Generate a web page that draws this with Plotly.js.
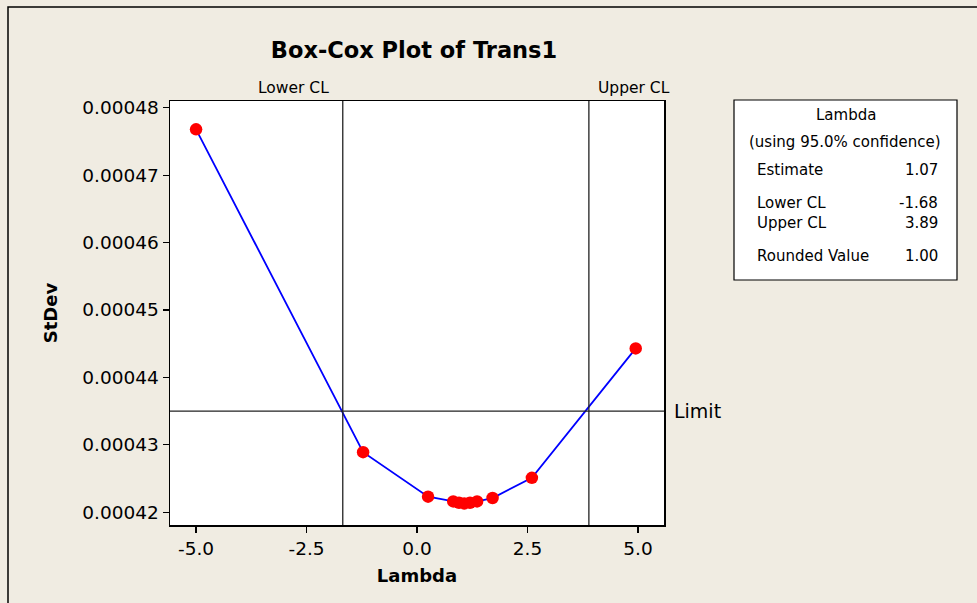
<!DOCTYPE html>
<html>
<head>
<meta charset="utf-8">
<script src="https://cdn.plot.ly/plotly-3.0.1.min.js"></script>
<style>html,body{margin:0;padding:0;background:#F0ECE2;}#chart{width:977px;height:603px;}</style>
</head>
<body>
<div id="chart"></div>
<script>
const lambdaValues = [-5.0, -1.22, 0.25, 0.82, 0.95, 1.07, 1.2, 1.36, 1.71, 2.6, 4.95];
const stdevValues = [0.0004768, 0.0004289, 0.0004223, 0.0004216, 0.0004214, 0.0004213, 0.0004214, 0.0004216, 0.0004221, 0.0004251, 0.0004443];
const lowerCL = -1.68;
const upperCL = 3.89;
const limitValue = 0.000435;
const xTicks = [-5.0, -2.5, 0.0, 2.5, 5.0];
const xTickLabels = ['-5.0', '-2.5', '0.0', '2.5', '5.0'];
const yTicks = [0.00042, 0.00043, 0.00044, 0.00045, 0.00046, 0.00047, 0.00048];
const yTickLabels = ['0.00042', '0.00043', '0.00044', '0.00045', '0.00046', '0.00047', '0.00048'];
const tableTitle = 'Lambda';
const tableSubtitle = '(using 95.0% confidence)';
const tableRows = [['Estimate', '1.07'], ['Lower CL', '-1.68'], ['Upper CL', '3.89'], ['Rounded Value', '1.00']];

const font = 'DejaVu Sans, Verdana, sans-serif';
const L = 170, R = 664, T = 101, B = 525, W = 977, H = 603;
const pw = R - L, ph = B - T;
const px = x => (x - L) / pw;
const py = y => 1 - (y - T) / ph;

const trace = {
  x: lambdaValues, y: stdevValues, type: 'scatter', mode: 'lines+markers',
  line: {color: '#0000FF', width: 1.8},
  marker: {color: '#FF0000', size: 12.5},
  hoverinfo: 'x+y', showlegend: false
};

const shapes = [
  {type: 'rect', xref: 'paper', yref: 'paper', x0: px(8), x1: px(1200), y0: py(7), y1: py(800), line: {color: '#000', width: 1.5}, fillcolor: 'rgba(0,0,0,0)', layer: 'below'},
  {type: 'line', xref: 'x', yref: 'paper', x0: lowerCL, x1: lowerCL, y0: 0, y1: 1, line: {color: '#222', width: 1.3}},
  {type: 'line', xref: 'x', yref: 'paper', x0: upperCL, x1: upperCL, y0: 0, y1: 1, line: {color: '#222', width: 1.3}},
  {type: 'line', xref: 'paper', yref: 'y', x0: 0, x1: 1, y0: limitValue, y1: limitValue, line: {color: '#222', width: 1.3}},
  {type: 'rect', xref: 'paper', yref: 'paper', x0: px(734), x1: px(957), y0: py(280), y1: py(100), line: {color: '#000', width: 1.2}, fillcolor: '#FFFFFF'}
];

const tf = 15;
const annotations = [
  {text: 'Lower CL', x: lowerCL, xref: 'x', y: py(88), yref: 'paper', xanchor: 'right', yanchor: 'middle', xshift: -12, showarrow: false, font: {family: font, size: 15.5, color: '#000'}},
  {text: 'Upper CL', x: upperCL, xref: 'x', y: py(88), yref: 'paper', xanchor: 'left', yanchor: 'middle', xshift: 7, showarrow: false, font: {family: font, size: 15.5, color: '#000'}},
  {text: 'Limit', x: px(672), xref: 'paper', y: limitValue, yref: 'y', xanchor: 'left', yanchor: 'middle', showarrow: false, font: {family: font, size: 19, color: '#000'}},
  {text: tableTitle, x: px(846), xref: 'paper', y: py(115), yref: 'paper', xanchor: 'center', yanchor: 'middle', showarrow: false, font: {family: font, size: tf, color: '#000'}},
  {text: tableSubtitle, x: px(845), xref: 'paper', y: py(142), yref: 'paper', xanchor: 'center', yanchor: 'middle', showarrow: false, font: {family: font, size: tf, color: '#000'}}
];
const rowY = [170, 203, 223, 256];
tableRows.forEach((r, i) => {
  annotations.push({text: r[0], x: px(755), xref: 'paper', y: py(rowY[i]), yref: 'paper', xanchor: 'left', yanchor: 'middle', showarrow: false, font: {family: font, size: tf, color: '#000'}});
  annotations.push({text: r[1], x: px(940), xref: 'paper', y: py(rowY[i]), yref: 'paper', xanchor: 'right', yanchor: 'middle', showarrow: false, font: {family: font, size: tf, color: '#000'}});
});

const layout = {
  width: W, height: H,
  paper_bgcolor: '#F0ECE2', plot_bgcolor: '#FFFFFF',
  margin: {l: L, r: W - R, t: T, b: H - B, pad: 0},
  title: {text: '<b>Box-Cox Plot of Trans1</b>', x: px(414), xref: 'paper', xanchor: 'center', y: 1 - 50 / H, yanchor: 'middle', font: {family: font, size: 22.5, color: '#000'}},
  xaxis: {
    range: [-5.59, 5.59], tickvals: xTicks, ticktext: xTickLabels,
    ticks: 'outside', ticklen: 6, tickcolor: '#000', tickwidth: 1.2,
    showgrid: false, zeroline: false, showline: true, linecolor: '#000', linewidth: 1.5, mirror: true,
    tickfont: {family: font, size: 18.5, color: '#000'},
    title: {text: '<b>Lambda</b>', font: {family: font, size: 18, color: '#000'}, standoff: 11}
  },
  yaxis: {
    range: [0.0004181, 0.000481], tickvals: yTicks, ticktext: yTickLabels,
    ticks: 'outside', ticklen: 6, tickcolor: '#000', tickwidth: 1.2,
    showgrid: false, zeroline: false, showline: true, linecolor: '#000', linewidth: 1.5, mirror: true,
    tickfont: {family: font, size: 18.5, color: '#000'},
    title: {text: '<b>StDev</b>', font: {family: font, size: 18, color: '#000'}, standoff: 20}
  },
  shapes: shapes, annotations: annotations
};

Plotly.newPlot('chart', [trace], layout, {displayModeBar: false, staticPlot: true});
</script>
</body>
</html>
